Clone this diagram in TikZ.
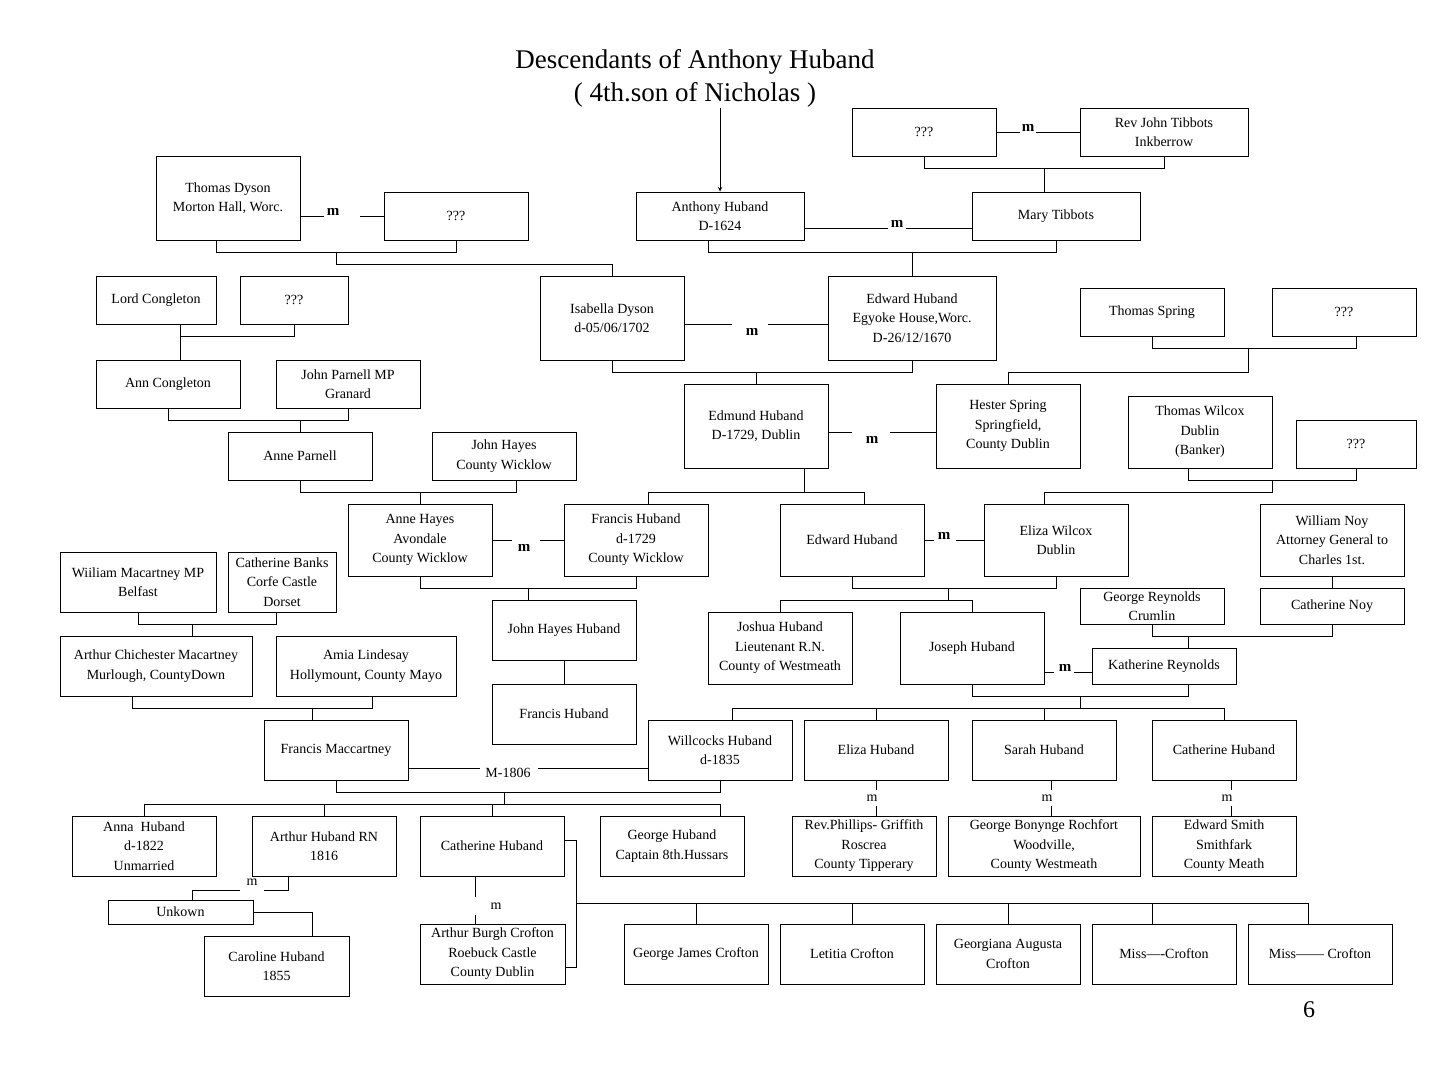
\documentclass[tikz,border=0pt]{standalone}
\usepackage{fontspec}
\setmainfont{Liberation Serif}
\begin{document}
\begin{tikzpicture}[x=1pt,y=-1pt,line width=1pt,
  box/.style={draw,inner sep=0pt,align=center,font=\fontsize{14}{19.5}\selectfont},
  mb/.style={font=\fontsize{15}{18}\selectfont\bfseries,inner sep=1pt},
  mr/.style={font=\fontsize{14}{18}\selectfont,inner sep=1pt}]
\newcommand\bx[6]{\node[box,minimum width={#4-#2},minimum height={#5-#3}] (#1) at ({(#2+#4)/2},{(#3+#5)/2}) {#6};}
\useasboundingbox (0,0) rectangle (1440,1080);
\node[font=\fontsize{27}{33}\selectfont,align=center] (title) at (695,78) {Descendants of Anthony Huband\\( 4th.son of Nicholas )};
\bx{u1}{852}{108}{996}{156}{???}
\bx{rev}{1080}{108}{1248}{156}{Rev John Tibbots\\Inkberrow}
\bx{dyson}{156}{156}{300}{240}{Thomas Dyson\\Morton Hall, Worc.}
\bx{u2}{384}{192}{528}{240}{???}
\bx{anth}{636}{192}{804}{240}{Anthony Huband\\D-1624}
\bx{mary}{972}{192}{1140}{240}{Mary Tibbots}
\bx{lordc}{96}{276}{216}{324}{Lord Congleton}
\bx{u3}{240}{276}{348}{324}{???}
\bx{isab}{540}{276}{684}{360}{Isabella Dyson\\d-05/06/1702}
\bx{edw1}{828}{276}{996}{360}{Edward Huband\\Egyoke House,Worc.\\D-26/12/1670}
\bx{tspring}{1080}{288}{1224}{336}{Thomas Spring}
\bx{u4}{1272}{288}{1416}{336}{???}
\bx{annc}{96}{360}{240}{408}{Ann Congleton}
\bx{jparn}{276}{360}{420}{408}{John Parnell MP\\Granard}
\bx{edm}{684}{384}{828}{468}{Edmund Huband\\D-1729, Dublin}
\bx{hester}{936}{384}{1080}{468}{Hester Spring\\Springfield,\\County Dublin}
\bx{twil}{1128}{396}{1272}{468}{Thomas Wilcox\\Dublin\\(Banker)}
\bx{u5}{1296}{420}{1416}{468}{???}
\bx{annep}{228}{432}{372}{480}{Anne Parnell}
\bx{jhayes}{432}{432}{576}{480}{John Hayes\\County Wicklow}
\bx{anneh}{348}{504}{492}{576}{Anne Hayes\\Avondale\\County Wicklow}
\bx{franh}{564}{504}{708}{576}{Francis Huband\\d-1729\\County Wicklow}
\bx{edw2}{780}{504}{924}{576}{Edward Huband}
\bx{eliw}{984}{504}{1128}{576}{Eliza Wilcox\\Dublin}
\bx{wnoy}{1260}{504}{1404}{576}{William Noy\\Attorney General to\\Charles 1st.}
\bx{cnoy}{1260}{588}{1404}{624}{Catherine Noy}
\bx{wmac}{60}{552}{216}{612}{Wiiliam Macartney MP\\Belfast}
\bx{cbanks}{228}{552}{336}{612}{Catherine Banks\\Corfe Castle\\Dorset}
\bx{jhh}{492}{600}{636}{660}{John Hayes Huband}
\bx{fh2}{492}{684}{636}{744}{Francis Huband}
\bx{josh}{708}{612}{852}{684}{Joshua Huband\\Lieutenant R.N.\\County of Westmeath}
\bx{joseph}{900}{612}{1044}{684}{Joseph Huband}
\bx{greyn}{1080}{588}{1224}{624}{George Reynolds\\Crumlin}
\bx{kreyn}{1092}{648}{1236}{684}{Katherine Reynolds}
\bx{acm}{60}{636}{252}{696}{Arthur Chichester Macartney\\Murlough, CountyDown}
\bx{amia}{276}{636}{456}{696}{Amia Lindesay\\Hollymount, County Mayo}
\bx{fmac}{264}{720}{408}{780}{Francis Maccartney}
\bx{will}{648}{720}{792}{780}{Willcocks Huband\\d-1835}
\bx{eliza}{804}{720}{948}{780}{Eliza Huband}
\bx{sarah}{972}{720}{1116}{780}{Sarah Huband}
\bx{cath1}{1152}{720}{1296}{780}{Catherine Huband}
\bx{anna}{72}{816}{216}{876}{Anna\ \ Huband\\d-1822\\Unmarried}
\bx{arthrn}{252}{816}{396}{876}{Arthur Huband RN\\1816}
\bx{cath2}{420}{816}{564}{876}{Catherine Huband}
\bx{georgeh}{600}{816}{744}{876}{George Huband\\Captain 8th.Hussars}
\bx{revp}{792}{816}{936}{876}{Rev.Phillips- Griffith\\Roscrea\\County Tipperary}
\bx{gbr}{948}{816}{1140}{876}{George Bonynge Rochfort\\Woodville,\\County Westmeath}
\bx{esmith}{1152}{816}{1296}{876}{Edward Smith\\Smithfark\\County Meath}
\bx{unk}{108}{900}{253}{924}{Unkown}
\bx{carol}{204}{936}{349}{996}{Caroline Huband\\1855}
\bx{abc}{420}{924}{565}{984}{Arthur Burgh Crofton\\Roebuck Castle\\County Dublin}
\bx{gjc}{624}{924}{768}{984}{George James Crofton}
\bx{letc}{780}{924}{924}{984}{Letitia Crofton}
\bx{gac}{936}{924}{1080}{984}{Georgiana Augusta\\Crofton}
\bx{miss1}{1092}{924}{1236}{984}{Miss----Crofton}
\bx{miss2}{1248}{924}{1392}{984}{Miss------ Crofton}
\node[font=\fontsize{24}{28}\selectfont] (pg) at (1309,1010) {6};
% title arrow
\draw[->,>=stealth] (720,108) -- (anth.north -| 720,0);
% marriages
\node[mb] (m1) at (1028,128) {m};
\draw (u1.east |- 0,132) -- (1020,132); \draw (1036,132) -- (rev.west |- 0,132);
\node[mb] (m2) at (333,212) {m};
\draw (dyson.east |- 0,216) -- (324,216); \draw (360,216) -- (u2.west |- 0,216);
\node[mb] (m3) at (897,224) {m};
\draw (anth.east |- 0,228) -- (888,228); \draw (906,228) -- (mary.west |- 0,228);
\node[mb] (m4) at (752,332) {m};
\draw (isab.east |- 0,324) -- (732,324); \draw (768,324) -- (edw1.west |- 0,324);
\node[mb] (m5) at (872,440) {m};
\draw (edm.east |- 0,432) -- (852,432); \draw (890,432) -- (hester.west |- 0,432);
\node[mb] (m6) at (524,548) {m};
\draw (anneh.east |- 0,540) -- (512,540); \draw (540,540) -- (franh.west |- 0,540);
\node[mb] (m7) at (944,536) {m};
\draw (edw2.east |- 0,540) -- (934,540); \draw (956,540) -- (eliw.west |- 0,540);
\node[mb] (m8) at (1065,668) {m};
\draw (joseph.east |- 0,672) -- (1054,672); \draw (1074,672) -- (kreyn.west |- 0,672);
\node[mr] (m9) at (508,773) {M-1806};
\draw (fmac.east |- 0,768) -- (480,768); \draw (538,768) -- (will.west |- 0,768);
% brackets
\draw (924,156) -- (924,168) -- (1164,168) -- (1164,156); \draw (1044,168) -- (mary.north -| 1044,0);
\draw (216,240) -- (216,252) -- (456,252) -- (456,240); \draw (336,252) -- (336,264) -- (612,264) -- (isab.north -| 612,0);
\draw (708,240) -- (708,252) -- (1056,252) -- (1056,240); \draw (912,252) -- (edw1.north -| 912,0);
\draw (180,324) -- (180,336) -- (294,336) -- (294,324); \draw (180,336) -- (annc.north -| 180,0);
\draw (612,360) -- (612,372) -- (912,372) -- (912,360); \draw (756,372) -- (edm.north -| 756,0);
\draw (1152,336) -- (1152,348) -- (1356,348) -- (1356,336); \draw (1248,348) -- (1248,372) -- (1008,372) -- (hester.north -| 1008,0);
\draw (168,408) -- (168,420) -- (348,420) -- (348,408); \draw (300,420) -- (annep.north);
\draw (1188,468) -- (1188,480) -- (1356,480) -- (1356,468); \draw (1272,480) -- (1272,492) -- (1044,492) -- (eliw.north -| 1044,0);
\draw (300,480) -- (300,492) -- (516,492) -- (516,480); \draw (420,492) -- (anneh.north);
\draw (edm.south -| 804,0) -- (804,492); \draw (648,492) -- (864,492); \draw (648,492) -- (franh.north -| 648,0); \draw (864,492) -- (edw2.north -| 864,0);
\draw (420,576) -- (420,588) -- (636,588) -- (636,576); \draw (528,588) -- (jhh.north -| 528,0);
\draw (jhh.south) -- (fh2.north);
\draw (852,576) -- (852,588) -- (1056,588) -- (1056,576); \draw (948,588) -- (948,600); \draw (780,600) -- (972,600); \draw (780,600) -- (josh.north -| 780,0); \draw (972,600) -- (joseph.north -| 972,0);
\draw (wnoy.south) -- (cnoy.north);
\draw (1152,624) -- (1152,636) -- (1332,636) -- (1332,624); \draw (1188,636) -- (kreyn.north -| 1188,0);
\draw (138,612) -- (138,624) -- (276,624) -- (276,612); \draw (192,624) -- (acm.north -| 192,0);
\draw (972,684) -- (972,696) -- (1188,696) -- (1188,684); \draw (1080,696) -- (1080,708); \draw (732,708) -- (1224,708);
\foreach \x/\n in {732/will,876/eliza,1044/sarah,1224/cath1} \draw (\x,708) -- (\n.north -| \x,0);
\draw (132,696) -- (132,708) -- (372,708) -- (372,696); \draw (312,708) -- (fmac.north -| 312,0);
\draw (336,780) -- (336,792) -- (720,792) -- (720,780); \draw (504,792) -- (504,804); \draw (144,804) -- (720,804);
\foreach \x/\n in {144/anna,324/arthrn,492/cath2,720/georgeh} \draw (\x,804) -- (\n.north -| \x,0);
% m under daughters
\foreach \x/\a/\b [count=\i] in {876/eliza/revp,1051/sarah/gbr,1231/cath1/esmith} {
  \node[mr] (md\i) at (\x-4,798) {m};
  \draw (\a.south -| \x,0) -- (\x,790); \draw (\x,806) -- (\b.north -| \x,0);
}
% Arthur RN m
\node[mr] (ma) at (252,882) {m};
\draw (arthrn.south -| 288,0) -- (288,890) -- (264,890); \draw (240,890) -- (192,890) -- (unk.north -| 192,0);
\draw (unk.east) -- (312,912) -- (carol.north -| 312,0);
% Catherine m
\node[mr] (mc) at (496,906) {m};
\draw (cath2.south -| 475,0) -- (475,897); \draw (475,915) -- (abc.north -| 475,0);
\draw (cath2.east |- 0,840) -- (576,840) -- (576,967) -- (abc.east |- 0,967);
\draw (576,903) -- (1308,903);
\foreach \x/\n in {696/gjc,852/letc,1008/gac,1152/miss1,1308/miss2} \draw (\x,903) -- (\n.north -| \x,0);
\end{tikzpicture}
\end{document}
